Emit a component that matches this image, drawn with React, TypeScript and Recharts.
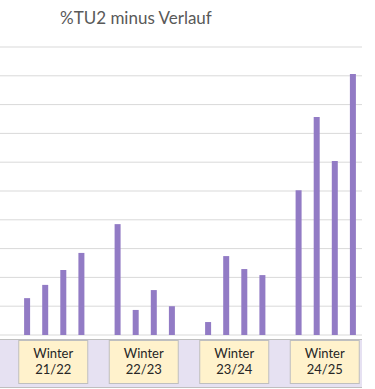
import React from 'react';
import { BarChart, Bar, XAxis, YAxis, CartesianGrid } from 'recharts';

const groupLabels = ['Winter 21/22', 'Winter 22/23', 'Winter 23/24', 'Winter 24/25'];
const winter2122 = [1.28, 1.74, 2.26, 2.85];
const winter2223 = [3.85, 0.87, 1.56, 1.0];
const winter2324 = [0.45, 2.74, 2.29, 2.08];
const winter2425 = [5.03, 7.57, 6.04, 9.06];
const groupValues = [winter2122, winter2223, winter2324, winter2425];
const yTicks = [0, 1, 2, 3, 4, 5, 6, 7, 8, 9, 10];

const data: { slot: string; value: number | null }[] = [];
groupValues.forEach((vals, g) => {
  data.push({ slot: `g${g}-gap`, value: null });
  vals.forEach((v, i) => data.push({ slot: `g${g}-${i}`, value: v }));
});

const FONT = 'Lato, "Noto Sans", sans-serif';

const GroupTick = (props: any) => {
  const { x, y, index } = props;
  if (index % 5 !== 2) return <g />;
  const label = groupLabels[Math.floor(index / 5)];
  const [l1, l2] = label.split(' ');
  const cx = x + 8;
  return (
    <g>
      <rect x={cx - 34.5} y={y + 5.5} width={69} height={43} fill="#FFF2CC" stroke="#BFBFBF" strokeWidth={1} />
      <text x={cx} y={y + 18} textAnchor="middle" dominantBaseline="central" fontFamily={FONT} fontSize={13} fill="#262626">
        {l1}
      </text>
      <text x={cx} y={y + 34} textAnchor="middle" dominantBaseline="central" fontFamily={FONT} fontSize={13} fill="#262626">
        {l2}
      </text>
    </g>
  );
};

export default function App() {
  return (
    <div style={{ position: 'absolute', left: 0, top: 0, width: 375, height: 389, background: '#fff', overflow: 'hidden' }}>
      <div
        style={{
          position: 'absolute',
          left: 0,
          top: 339,
          width: 362,
          height: 49,
          boxSizing: 'border-box',
          background: '#E6E1F2',
          borderTop: '1px solid #BFBFBF',
          borderBottom: '1px solid #BFBFBF',
        }}
      />
      <div
        style={{
          position: 'absolute',
          left: 60,
          top: 8,
          lineHeight: '20px',
          fontFamily: FONT,
          fontSize: 17,
          color: '#595959',
          whiteSpace: 'nowrap',
        }}
      >
        %TU2 minus Verlauf
      </div>
      <div style={{ position: 'absolute', left: 0, top: 0 }}>
        <BarChart width={375} height={389} data={data} margin={{ top: 47, right: 13, bottom: 4, left: 0 }} barCategoryGap={0}>
          <CartesianGrid vertical={false} stroke="#D9D9D9" strokeWidth={1} />
          <YAxis hide domain={[0, 10]} ticks={yTicks} />
          <XAxis
            dataKey="slot"
            height={50}
            interval={0}
            axisLine={false}
            tickLine={false}
            tickSize={0}
            tickMargin={0}
            tick={<GroupTick />}
          />
          <Bar dataKey="value" fill="#927BC5" barSize={6} isAnimationActive={false} />
        </BarChart>
      </div>
    </div>
  );
}
